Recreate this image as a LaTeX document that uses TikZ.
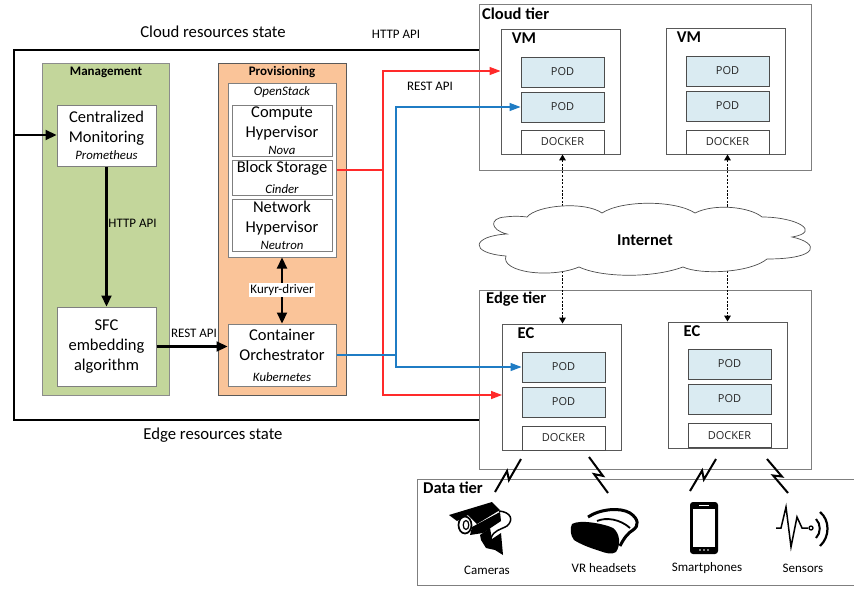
\documentclass[tikz,border=0pt]{standalone}
\usepackage{fontspec}
\setmainfont{Carlito}
\newfontfamily\segfont{Open Sans}
\usetikzlibrary{calc,arrows.meta}
\definecolor{mgmtgreen}{HTML}{C3D69B}
\definecolor{provorange}{HTML}{FAC499}
\definecolor{podblue}{HTML}{DAEBF2}
\definecolor{edgegray}{HTML}{7F7F7F}
\definecolor{linkred}{HTML}{FF2A2A}
\definecolor{linkblue}{HTML}{1F7CC4}
\newcommand{\fs}[2]{\fontsize{#1}{#2}\selectfont}
\newcommand{\sub}[1]{{\fontsize{12.8}{14}\selectfont\itshape #1}}
\newcommand{\boltlink}[2]{\draw[boltline] (#1) -- ($(#1)!0.57!(#2)!3.5pt!90:(#2)$) -- ($(#1)!0.43!(#2)!3.5pt!-90:(#2)$) -- (#2);}
\tikzset{
  panel/.style={draw=#1,line width=1pt,inner sep=0pt,align=center},
  whitebox/.style={draw=edgegray,fill=white,line width=1pt,inner sep=0pt,align=center,text=black,font=\fs{16.5}{20}},
  podbox/.style={draw=black!70,fill=podblue,line width=.9pt,inner sep=0pt,minimum width=83pt,minimum height=30pt,font=\segfont\fs{11}{12},text=black!85},
  dockerbox/.style={draw=black!70,fill=white,line width=.9pt,inner sep=0pt,minimum width=83pt,minimum height=24pt,font=\segfont\fs{11}{12},text=black!85},
  tierbox/.style={draw=edgegray,line width=1pt,inner sep=0pt},
  hostbox/.style={draw=black!65,line width=.9pt,fill=white,inner sep=0pt,minimum width=119pt,minimum height=126pt},
  bigtext/.style={font=\fs{16.7}{20},align=center},
  smalllabel/.style={font=\fs{13}{15},inner sep=0pt},
  boldlabel/.style={font=\bfseries\fs{16.5}{18},inner sep=0pt},
  paneltitle/.style={font=\bfseries\fs{13}{15},inner sep=0pt},
  blackline/.style={draw=black,line width=2.2pt},
  blackarrow/.style={blackline,-{Triangle[length=11pt,width=10pt]}},
  redlink/.style={draw=linkred,line width=1.3pt},
  bluelink/.style={draw=linkblue,line width=1.3pt},
  colortip/.style={-{Triangle[length=11pt,width=8pt]}},
  dotlink/.style={draw=black,line width=1.5pt,dash pattern=on 2.2pt off 1.5pt,{Triangle[length=6pt,width=6.5pt]}-{Triangle[length=6pt,width=6.5pt]}},
  boltline/.style={draw=black,line width=2pt},
}
\begin{document}
\begin{tikzpicture}[x=1pt,y=-1pt]
\useasboundingbox (0,0) rectangle (854,589);
% tier frames
\node[tierbox,minimum width=332pt,minimum height=166pt] (cloud) at (645,87) {};
\node[tierbox,minimum width=332pt,minimum height=179pt] (edge) at (645,379.5) {};
\node[tierbox,minimum width=443pt,minimum height=106pt] (data) at (638.5,532) {};
% state frame
\coordinate (ft) at (14,50);
\coordinate (fb) at (14,420);
\coordinate (fm) at (14,135);
\draw[blackline] (cloud.west |- ft) -- (ft) -- (fb) -- (edge.west |- fb);
% panels
\node[panel=black!45,fill=mgmtgreen,minimum width=127pt,minimum height=332pt] (mgmt) at (105.5,229) {};
\node[panel=black!65,fill=provorange,minimum width=128pt,minimum height=332pt] (prov) at (282,229) {};
\node[paneltitle] (mgmtt) at (106,72) {Management};
\node[paneltitle] (provt) at (282,72) {Provisioning};
% management boxes
\node[whitebox,minimum width=99pt,minimum height=61pt] (cm) at (106.5,135.5) {Centralized\\Monitoring\\[-3pt]\sub{Prometheus}};
\node[whitebox,minimum width=99pt,minimum height=79pt] (sfc) at (106.5,346.5) {SFC\\embedding\\algorithm};
% provisioning boxes
\node[whitebox,minimum width=108pt,minimum height=174pt] (os) at (282,170) {};
\node[font=\itshape\fs{13}{15},inner sep=0pt] (ost) at (282,92) {OpenStack};
\node[whitebox,minimum width=100pt,minimum height=51pt] (nova) at (282,130.5) {Compute\\Hypervisor\\[-3pt]\sub{Nova}};
\node[whitebox,minimum width=100pt,minimum height=35pt] (cinder) at (282,177.5) {Block Storage\\[1pt]\sub{Cinder}};
\node[whitebox,minimum width=100pt,minimum height=52pt] (neutron) at (282,225) {Network\\Hypervisor\\[-3pt]\sub{Neutron}};
\node[whitebox,minimum width=108pt,minimum height=62pt] (co) at (282,355) {Container\\Orchestrator\\[1pt]\sub{Kubernetes}};
% cloud hosts
\node[hostbox,minimum height=125pt] (vma) at (560.5,91.5) {};
\node[hostbox,minimum height=126pt] (vmb) at (726,91) {};
\node[podbox] (pa) at (562.5,72) {POD};
\node[podbox] (pb) at (562.5,107) {POD};
\node[dockerbox] (da) at (562.5,142) {DOCKER};
\node[podbox] (pc) at (727.5,71) {POD};
\node[podbox] (pd) at (727.5,106) {POD};
\node[dockerbox] (db) at (727.5,142) {DOCKER};
% edge hosts
\node[hostbox] (eca) at (562,387) {};
\node[hostbox] (ecb) at (728,385) {};
\node[podbox] (pe) at (563.5,367) {POD};
\node[podbox] (pf) at (563.5,402) {POD};
\node[dockerbox] (dc) at (563.5,438) {DOCKER};
\node[podbox] (pg) at (729.5,364) {POD};
\node[podbox] (ph) at (729.5,399) {POD};
\node[dockerbox] (dd) at (729.5,435.5) {DOCKER};
% control links
\draw[blackarrow] (fm) -- (cm.west |- fm);
\draw[blackarrow] (cm.south) -- (sfc.north);
\draw[blackarrow] (sfc.east) -- (co.west |- sfc.east);
\draw[blackline,{Triangle[length=11pt,width=10pt]}-{Triangle[length=11pt,width=10pt]}] (os.south) -- (co.north);
% red links
\coordinate (rj) at (383,170);
\coordinate (rt) at (383,71);
\coordinate (rb) at (383,395);
\draw[redlink] (os.east |- rj) -- (rj);
\draw[redlink,colortip] (rj) -- (rt) -- (vma.west |- rt);
\draw[redlink,colortip] (rj) -- (rb) -- (eca.west |- rb);
% blue links
\coordinate (bj) at (396,355);
\coordinate (bt) at (396,107);
\coordinate (bb) at (396,367);
\draw[bluelink] (co.east |- bj) -- (bj);
\draw[bluelink,colortip] (bj) -- (bt) -- (pb.west);
\draw[bluelink,colortip] (bj) -- (bb) -- (pe.west);
% dotted links
\draw[dotlink] (da.south) -- (da.south |- eca.north);
\draw[dotlink] (db.south) -- (db.south |- ecb.north);
% cloud
\draw[draw=black!70,fill=white,line width=.7pt]
  (507,234) .. controls (490,230) and (489,218) .. (505,217)
  .. controls (512,216) and (520,216) .. (527,217)
  .. controls (537,205) and (585,201) .. (602,213)
  .. controls (622,200) and (675,200) .. (695,213)
  .. controls (715,203) and (750,207) .. (762,217)
  .. controls (797,217) and (822,232) .. (792,237)
  .. controls (820,243) and (820,259) .. (767,259)
  .. controls (750,273) and (700,275) .. (683,267)
  .. controls (650,279) and (600,277) .. (579,267)
  .. controls (550,279) and (500,272) .. (506,256)
  .. controls (468,253) and (472,236) .. (507,234) -- cycle;
\node[boldlabel] (inet) at (645,240) {Internet};
% link labels
\node[bigtext] (crs) at (213,32) {Cloud resources state};
\node[bigtext] (ers) at (213,435) {Edge resources state};
\node[smalllabel] (httpa) at (396,34) {HTTP API};
\node[smalllabel] (resta) at (430,86) {REST API};
\node[smalllabel] (httpb) at (132.5,223) {HTTP API};
\node[smalllabel] (restb) at (194,333) {REST API};
\node[smalllabel,fill=white,inner xsep=1pt,inner ysep=1.5pt] (kuryr) at (282,290) {Kuryr-driver};
% tier labels
\node[boldlabel,anchor=west] (tc) at (482,14) {Cloud tier};
\node[boldlabel,anchor=west] (te) at (486,299) {Edge tier};
\node[boldlabel,anchor=west] (td) at (423,488) {Data tier};
\node[boldlabel] (vml) at (524,38) {VM};
\node[boldlabel] (vmr) at (689,37) {VM};
\node[boldlabel] (ecl) at (526,333) {EC};
\node[boldlabel] (ecr) at (692,331) {EC};
% wireless links
\coordinate (wa1) at (521,459); \coordinate (wa2) at (495,492);
\coordinate (wb1) at (589,457); \coordinate (wb2) at (608,493);
\coordinate (wc1) at (716,459); \coordinate (wc2) at (690,491);
\coordinate (wd1) at (767,459); \coordinate (wd2) at (788,493);
\boltlink{wa1}{wa2}
\boltlink{wb1}{wb2}
\boltlink{wc1}{wc2}
\boltlink{wd1}{wd2}
% camera icon
\fill[black] (449,515) -- (492,502) -- (500,510) -- (477,524) -- (468,515) -- (457,521) -- cycle;
\fill[black] (472,527) -- (500,512) -- (501,521) -- (483,533) -- (470,535) -- cycle;
\fill[black] (480,535) -- (490,528) -- (492,539) -- (501,533) -- (503,555) -- (495,550) -- (486,548) -- (481,540) -- cycle;
\draw[black,fill=white,line width=1.7pt] (465,525) ellipse [x radius=6.5pt,y radius=8.5pt];
\draw[black,line width=1.2pt] (466,525) ellipse [x radius=2.8pt,y radius=4.5pt];
\draw[black,line width=1.5pt] (499,511) .. controls (511,512) and (514,520) .. (507,526) .. controls (500,530) and (494,530) .. (491,538);
% headset icon
\draw[black,line width=3pt] (588,517) .. controls (600,509) and (620,507) .. (630,513) .. controls (639,519) and (639,526) .. (633,530) .. controls (628,533) and (624,538) .. (620,546);
\draw[black,line width=1.8pt] (597,521) .. controls (606,517) and (620,519) .. (630,528);
\fill[black] (572,524) .. controls (580,519) and (605,524) .. (613,528) .. controls (620,533) and (621,545) .. (616,552) .. controls (612,555) and (605,553) .. (600,551) .. controls (590,548) and (580,544) .. (574,540) .. controls (570,535) and (570,528) .. (572,524) -- cycle;
% phone icon
\fill[black,rounded corners=3pt] (690,502) rectangle (718,554);
\fill[white] (693,509) rectangle (715,547);
\fill[white] (699,505) rectangle (709,506);
\fill[white] (700,550) circle [radius=.8pt] (704,550) circle [radius=.8pt] (708,550) circle [radius=.8pt];
% sensor icon
\draw[black,line width=1.5pt] (776,528) -- (781,528) -- (786,507) -- (791,547) -- (797,517) -- (802,528) -- (808,528);
\draw[black,line width=1.3pt] (811,528) circle [radius=2pt];
\draw[black,line width=2pt] (816,519) .. controls (821,524) and (821,533) .. (816,538);
\draw[black,line width=2.2pt] (820,512) .. controls (830,520) and (830,537) .. (820,546);
% device labels
\node[smalllabel] (lca) at (487,570) {Cameras};
\node[smalllabel] (lvr) at (604,568) {VR headsets};
\node[smalllabel] (lsm) at (707,568) {Smartphones};
\node[smalllabel] (lse) at (803,568) {Sensors};
\end{tikzpicture}
\end{document}
